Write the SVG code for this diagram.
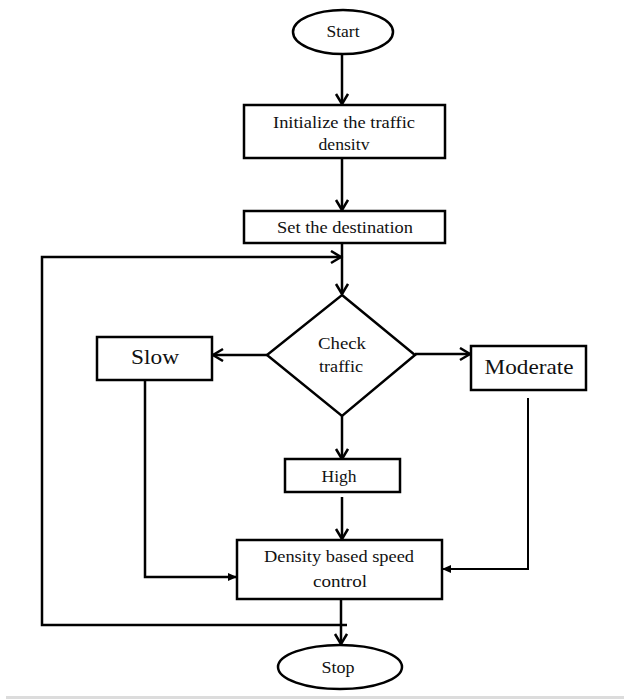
<svg xmlns="http://www.w3.org/2000/svg" width="624" height="699" viewBox="0 0 624 699">
<style>
.shape{fill:#fff;stroke:#000;stroke-width:2.5}
.t{font-family:"Liberation Serif","Times New Roman",serif;font-size:16px;fill:#111;text-anchor:middle}
.big{font-size:22px}
.ln{fill:none;stroke:#000;stroke-width:2.5}
.thin{stroke-width:2}
</style>
<defs>
<marker id="open" markerUnits="userSpaceOnUse" markerWidth="14" markerHeight="16" refX="11" refY="7" orient="auto">
<path d="M1,1 L11,7 L1,13" fill="none" stroke="#000" stroke-width="2.5"/>
</marker>
<marker id="solid" markerUnits="userSpaceOnUse" markerWidth="10" markerHeight="10" refX="9" refY="5" orient="auto">
<path d="M0,1 L9,5 L0,9 Z" fill="#000"/>
</marker>
</defs>
<rect width="624" height="699" fill="#fff"/>
<rect x="6" y="696" width="618" height="3" fill="#dcdcdc"/>
<g id="connectors">
<line class="ln" x1="342" y1="54" x2="342" y2="104" marker-end="url(#open)"/>
<line class="ln" x1="342" y1="158" x2="342" y2="210" marker-end="url(#open)"/>
<line class="ln" x1="342" y1="243" x2="342" y2="294" marker-end="url(#open)"/>
<path class="ln" d="M347,625 L42,625 L42,257 L341,257" marker-end="url(#open)"/>
<line class="ln" x1="267" y1="355" x2="213" y2="355" marker-end="url(#open)"/>
<line class="ln" x1="415" y1="354" x2="470" y2="354" marker-end="url(#open)"/>
<line class="ln" x1="342" y1="416" x2="342" y2="459" marker-end="url(#open)"/>
<line class="ln" x1="342" y1="497" x2="342" y2="539" marker-end="url(#open)"/>
<path class="ln" d="M145,380 L145,577 L237,577" marker-end="url(#solid)"/>
<path class="ln thin" d="M528,398 L528,569 L442,569" marker-end="url(#solid)"/>
<line class="ln" x1="341" y1="599" x2="341" y2="644" marker-end="url(#open)"/>
</g>
<g id="start">
<ellipse class="shape" cx="343" cy="32" rx="50" ry="22"/>
<text class="t" x="343" y="37" textLength="33" lengthAdjust="spacingAndGlyphs">Start</text>
</g>
<g id="init">
<rect class="shape" x="244" y="105" width="201" height="53"/>
<text class="t" x="344" y="128" textLength="142" lengthAdjust="spacingAndGlyphs">Initialize the traffic</text>
<text class="t" x="344" y="150" textLength="51" lengthAdjust="spacingAndGlyphs">densitv</text>
</g>
<g id="setdest">
<rect class="shape" x="244" y="211" width="201" height="32"/>
<text class="t" x="345" y="233" textLength="136" lengthAdjust="spacingAndGlyphs">Set the destination</text>
</g>
<g id="check">
<polygon class="shape" points="342,295 415,355 342,416 267,355"/>
<text class="t" x="342" y="349" textLength="48" lengthAdjust="spacingAndGlyphs">Check</text>
<text class="t" x="341" y="372" textLength="44" lengthAdjust="spacingAndGlyphs">traffic</text>
</g>
<g id="slow">
<rect class="shape" x="97" y="337" width="115" height="43"/>
<text class="t big" x="155" y="364" textLength="48" lengthAdjust="spacingAndGlyphs">Slow</text>
</g>
<g id="moderate">
<rect class="shape" x="471" y="346" width="115" height="44"/>
<text class="t big" x="529" y="374" textLength="89" lengthAdjust="spacingAndGlyphs">Moderate</text>
</g>
<g id="high">
<rect class="shape" x="285" y="459" width="115" height="33"/>
<text class="t" x="339" y="482" textLength="35" lengthAdjust="spacingAndGlyphs">High</text>
</g>
<g id="density">
<rect class="shape" x="237" y="540" width="205" height="59"/>
<text class="t" x="339" y="562" textLength="150" lengthAdjust="spacingAndGlyphs">Density based speed</text>
<text class="t" x="340" y="587" textLength="54" lengthAdjust="spacingAndGlyphs">control</text>
</g>
<g id="stop">
<ellipse class="shape" cx="340" cy="667" rx="62" ry="22"/>
<text class="t" x="338" y="673" textLength="33" lengthAdjust="spacingAndGlyphs">Stop</text>
</g>
</svg>
